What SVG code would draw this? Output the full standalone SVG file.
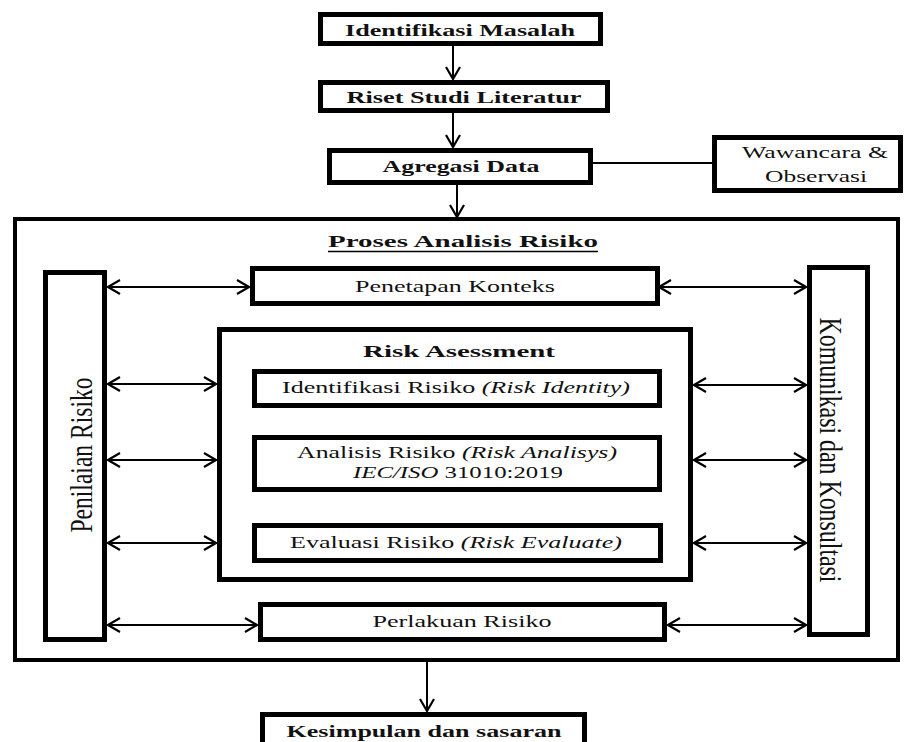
<svg xmlns="http://www.w3.org/2000/svg" width="907" height="742" viewBox="0 0 907 742">
<style>
.box{fill:#fff;stroke:#000;stroke-width:5}
.outer{fill:#fff;stroke:#000;stroke-width:4}
.ln{fill:none;stroke:#000;stroke-width:2}
.t{font-family:"Liberation Serif","Times New Roman",serif;font-size:17px;fill:#111;text-anchor:middle}
.b{font-weight:bold}
.i{font-style:italic}
.v{font-family:"Liberation Serif","Times New Roman",serif;font-size:32px;fill:#111;text-anchor:middle}
</style>
<defs>
<marker id="ah" viewBox="0 0 14 16" refX="13" refY="8" markerWidth="14" markerHeight="16" markerUnits="userSpaceOnUse" orient="auto-start-reverse">
<path d="M1,1 L13,8 L1,15" fill="none" stroke="#000" stroke-width="2.2"/>
</marker>
</defs>
<rect width="907" height="742" fill="#fff"/>

<g id="outer-proses">
<rect class="outer" x="15" y="219" width="883" height="441"/>
<text class="t b" x="463" y="247" textLength="270" lengthAdjust="spacingAndGlyphs">Proses Analisis Risiko</text>
<line x1="328" y1="251.5" x2="598" y2="251.5" stroke="#000" stroke-width="1.5"/>
</g>

<g id="connectors">
<line class="ln" x1="453" y1="46" x2="453" y2="79" marker-end="url(#ah)"/>
<line class="ln" x1="453" y1="113" x2="453" y2="147" marker-end="url(#ah)"/>
<line class="ln" x1="593" y1="163" x2="712" y2="163"/>
<line class="ln" x1="457" y1="185" x2="457" y2="217" marker-end="url(#ah)"/>
<line class="ln" x1="427" y1="662" x2="427" y2="711" marker-end="url(#ah)"/>
<line class="ln" x1="108" y1="287" x2="249" y2="287" marker-start="url(#ah)" marker-end="url(#ah)"/>
<line class="ln" x1="108" y1="384" x2="216" y2="384" marker-start="url(#ah)" marker-end="url(#ah)"/>
<line class="ln" x1="108" y1="460" x2="216" y2="460" marker-start="url(#ah)" marker-end="url(#ah)"/>
<line class="ln" x1="108" y1="543" x2="216" y2="543" marker-start="url(#ah)" marker-end="url(#ah)"/>
<line class="ln" x1="108" y1="625" x2="257" y2="625" marker-start="url(#ah)" marker-end="url(#ah)"/>
<line class="ln" x1="659" y1="287" x2="806" y2="287" marker-start="url(#ah)" marker-end="url(#ah)"/>
<line class="ln" x1="694" y1="385" x2="806" y2="385" marker-start="url(#ah)" marker-end="url(#ah)"/>
<line class="ln" x1="694" y1="460" x2="806" y2="460" marker-start="url(#ah)" marker-end="url(#ah)"/>
<line class="ln" x1="694" y1="543" x2="806" y2="543" marker-start="url(#ah)" marker-end="url(#ah)"/>
<line class="ln" x1="668" y1="625" x2="806" y2="625" marker-start="url(#ah)" marker-end="url(#ah)"/>
</g>

<g id="identifikasi-masalah">
<rect class="box" x="320.5" y="14.5" width="280" height="29"/>
<text class="t b" x="460" y="36" textLength="230" lengthAdjust="spacingAndGlyphs">Identifikasi Masalah</text>
</g>
<g id="riset-studi">
<rect class="box" x="320.5" y="82.5" width="287" height="28"/>
<text class="t b" x="464" y="103" textLength="235" lengthAdjust="spacingAndGlyphs">Riset Studi Literatur</text>
</g>
<g id="agregasi-data">
<rect class="box" x="329.5" y="150.5" width="261" height="32"/>
<text class="t b" x="461" y="172" textLength="157" lengthAdjust="spacingAndGlyphs">Agregasi Data</text>
</g>
<g id="wawancara">
<rect class="box" x="714.5" y="137.5" width="186" height="53"/>
<text class="t" x="815" y="158" textLength="146" lengthAdjust="spacingAndGlyphs">Wawancara &amp;</text>
<text class="t" x="816" y="182" textLength="102" lengthAdjust="spacingAndGlyphs">Observasi</text>
</g>

<g id="penilaian-risiko">
<rect class="box" x="45.5" y="272.5" width="59" height="367"/>
<text class="v" transform="translate(92,455) rotate(-90)" textLength="155" lengthAdjust="spacingAndGlyphs">Penilaian Risiko</text>
</g>
<g id="komunikasi">
<rect class="box" x="809.5" y="267.5" width="58" height="367"/>
<text class="v" transform="translate(820,450) rotate(90)" textLength="265" lengthAdjust="spacingAndGlyphs">Komunikasi dan Konsultasi</text>
</g>
<g id="penetapan-konteks">
<rect class="box" x="252.5" y="268.5" width="405" height="35"/>
<text class="t" x="455" y="292" textLength="200" lengthAdjust="spacingAndGlyphs">Penetapan Konteks</text>
</g>

<g id="risk-assessment">
<rect class="box" x="219.5" y="329.5" width="471" height="250"/>
<text class="t b" x="459" y="357" textLength="192" lengthAdjust="spacingAndGlyphs">Risk Asessment</text>
</g>
<g id="identifikasi-risiko">
<rect class="box" x="254.5" y="371.5" width="405" height="34"/>
<text class="t" x="456" y="393" textLength="348" lengthAdjust="spacingAndGlyphs">Identifikasi Risiko <tspan class="i">(Risk Identity)</tspan></text>
</g>
<g id="analisis-risiko">
<rect class="box" x="254.5" y="437.5" width="405" height="52"/>
<text class="t" x="457" y="458" textLength="320" lengthAdjust="spacingAndGlyphs">Analisis Risiko <tspan class="i">(Risk Analisys)</tspan></text>
<text class="t" x="458" y="478" textLength="210" lengthAdjust="spacingAndGlyphs"><tspan class="i">IEC/ISO</tspan> 31010:2019</text>
</g>
<g id="evaluasi-risiko">
<rect class="box" x="254.5" y="525.5" width="406" height="35"/>
<text class="t" x="456" y="548" textLength="332" lengthAdjust="spacingAndGlyphs">Evaluasi Risiko <tspan class="i">(Risk Evaluate)</tspan></text>
</g>
<g id="perlakuan-risiko">
<rect class="box" x="260.5" y="604.5" width="404" height="35"/>
<text class="t" x="462" y="627" textLength="179" lengthAdjust="spacingAndGlyphs">Perlakuan Risiko</text>
</g>
<g id="kesimpulan">
<rect class="box" x="262.5" y="714.5" width="322" height="50"/>
<text class="t b" x="424" y="737" textLength="275" lengthAdjust="spacingAndGlyphs">Kesimpulan dan sasaran</text>
</g>
</svg>
